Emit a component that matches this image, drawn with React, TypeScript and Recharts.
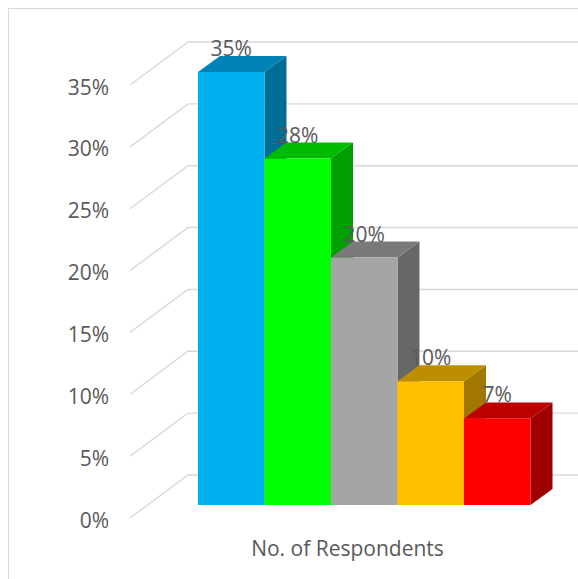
import { Bar, BarChart, CartesianGrid, XAxis, YAxis } from 'recharts'

const categories = ['No. of Respondents']
const seriesNames = ['Group A', 'Group B', 'Group C', 'Group D', 'Group E']
const seriesValues = [35, 28, 20, 10, 7]
const yTicks = [0, 5, 10, 15, 20, 25, 30, 35]

const frontColors = ['#00B0F0', '#00FF00', '#A5A5A5', '#FFC000', '#FF0000']
const topColors = ['#0082B4', '#00BC00', '#7A7A7A', '#BC8E00', '#BC0000']
const sideColors = ['#006D96', '#00A000', '#676767', '#A07800', '#A00000']

const FONT = '"Open Sans", sans-serif'
const TEXT = '#595959'
const GRID = '#D9D9D9'

// bar depth
const DX = 22
const DY = 16

const table = categories.map((name) => {
  const row: Record<string, string | number> = { name }
  seriesNames.forEach((s, i) => {
    row[s] = seriesValues[i]
  })
  return row
})

// front, top and side faces, then the value label so the next bar can sit on top of it
function Box3D(props: any, i: number) {
  const { x, y, width, height } = props
  const r = x + width
  const b = y + height
  return (
    <g>
      <polygon points={`${r},${y} ${r + DX},${y - DY} ${r + DX},${b - DY} ${r},${b}`} fill={sideColors[i]} />
      <polygon points={`${x},${y} ${x + DX},${y - DY} ${r + DX},${y - DY} ${r},${y}`} fill={topColors[i]} />
      <rect x={x} y={y} width={width} height={height} fill={frontColors[i]} />
      <text
        x={x + width / 2}
        y={y - 24}
        textAnchor="middle"
        dominantBaseline="central"
        fontSize={21}
        fontFamily={FONT}
        fill={TEXT}
      >
        {`${seriesValues[i]}%`}
      </text>
    </g>
  )
}

// back wall line plus the diagonal running down the side wall
function WallLine({ y1 }: any) {
  const backY = y1 - 30
  return (
    <polyline
      key={y1}
      points={`130,${y1 + 13} 188,${backY} 578,${backY}`}
      fill="none"
      stroke={GRID}
      strokeWidth={1.4}
    />
  )
}

function ValueTick({ y, payload }: any) {
  return (
    <text x={109} y={y + 14.5} textAnchor="end" dominantBaseline="central" fontSize={21} fontFamily={FONT} fill={TEXT}>
      {`${payload.value}%`}
    </text>
  )
}

function CategoryTick({ x, payload }: any) {
  return (
    <text x={x - 17} y={548} textAnchor="middle" dominantBaseline="central" fontSize={21} fontFamily={FONT} fill={TEXT}>
      {payload.value}
    </text>
  )
}

export default function App() {
  return (
    <div style={{ position: 'absolute', left: 0, top: 0, width: 578, height: 579, overflow: 'hidden', background: '#fff' }}>
      <div
        style={{
          position: 'absolute',
          left: 8,
          top: 8,
          width: 600,
          height: 600,
          borderLeft: '1px solid #D9D9D9',
          borderTop: '1px solid #D9D9D9',
        }}
      />
      <div style={{ position: 'absolute', left: 0, top: 0 }}>
        <BarChart
          width={578}
          height={579}
          data={table}
          margin={{ top: 72, right: 47, bottom: 0, left: 0 }}
          barCategoryGap={0}
          barGap={0}
        >
          <CartesianGrid vertical={false} horizontal={WallLine} horizontalValues={yTicks} />
          <XAxis dataKey="name" axisLine={false} tickLine={false} height={74} tick={CategoryTick} />
          <YAxis
            type="number"
            domain={[0, 35]}
            ticks={yTicks}
            width={198}
            axisLine={false}
            tickLine={false}
            tick={ValueTick}
            interval={0}
          />
          {seriesNames.map((s, i) => (
            <Bar key={s} dataKey={s} barSize={66.5} isAnimationActive={false} shape={(p: any) => Box3D(p, i)} />
          ))}
        </BarChart>
      </div>
    </div>
  )
}
